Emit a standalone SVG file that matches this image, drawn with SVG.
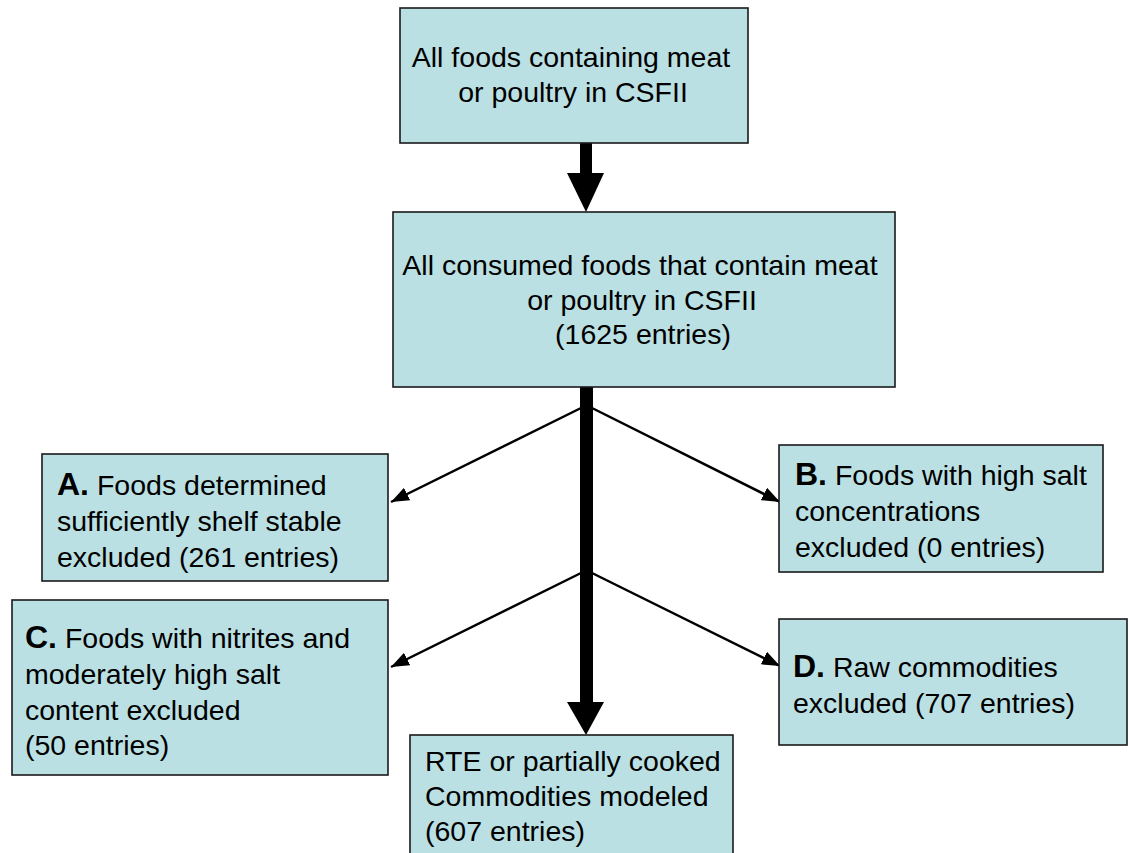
<svg xmlns="http://www.w3.org/2000/svg" width="1130" height="853" viewBox="0 0 1130 853">
<defs>
<style>
.box{fill:#bbe0e3;stroke:#1a1a1a;stroke-width:1.6}
.t{font-family:"Liberation Sans",Arial,sans-serif;font-size:28.5px;fill:#000}
.c{text-anchor:middle}
.b{font-weight:bold;font-size:32px}
.thin{stroke:#000;stroke-width:2.5;fill:none}
</style>
<marker id="ah" markerUnits="userSpaceOnUse" markerWidth="20" markerHeight="14" refX="18" refY="7" orient="auto">
<path d="M0,0 L18,7 L0,14 z" fill="#000"/>
</marker>
</defs>
<rect width="1130" height="853" fill="#fff"/>
<g id="connectors">
<rect x="580" y="143" width="12" height="31" fill="#000"/>
<polygon points="567,173 604,173 586,212" fill="#000"/>
<rect x="580" y="387" width="13" height="316" fill="#000"/>
<polygon points="567,702 604,702 586,735" fill="#000"/>
<line class="thin" x1="581" y1="408" x2="391" y2="502" marker-end="url(#ah)"/>
<line class="thin" x1="592" y1="408" x2="780" y2="502" marker-end="url(#ah)"/>
<line class="thin" x1="581" y1="573" x2="391" y2="667" marker-end="url(#ah)"/>
<line class="thin" x1="592" y1="573" x2="780" y2="666" marker-end="url(#ah)"/>
</g>
<g id="n1">
<rect class="box" x="400" y="8" width="348" height="135"/>
<text class="t c" x="571"><tspan x="571" y="67">All foods containing meat</tspan><tspan x="573" y="102">or poultry in CSFII</tspan></text>
</g>
<g id="n2">
<rect class="box" x="393" y="212" width="502" height="175"/>
<text class="t c"><tspan x="640" y="275">All consumed foods that contain meat</tspan><tspan x="642" y="310">or poultry in CSFII</tspan><tspan x="643" y="344">(1625 entries)</tspan></text>
</g>
<g id="nA">
<rect class="box" x="42" y="454" width="346" height="127"/>
<text class="t"><tspan x="57" y="495"><tspan class="b">A.</tspan> Foods determined</tspan><tspan x="57" y="531">sufficiently shelf stable</tspan><tspan x="57" y="567">excluded (261 entries)</tspan></text>
</g>
<g id="nB">
<rect class="box" x="779" y="445" width="324" height="127"/>
<text class="t"><tspan x="795" y="485"><tspan class="b">B.</tspan> Foods with high salt</tspan><tspan x="795" y="521">concentrations</tspan><tspan x="795" y="557">excluded (0 entries)</tspan></text>
</g>
<g id="nC">
<rect class="box" x="12" y="600" width="376" height="175"/>
<text class="t"><tspan x="25" y="648"><tspan class="b">C.</tspan> Foods with nitrites and</tspan><tspan x="25" y="684">moderately high salt</tspan><tspan x="25" y="720">content excluded</tspan><tspan x="25" y="755">(50 entries)</tspan></text>
</g>
<g id="nD">
<rect class="box" x="779" y="619" width="348" height="126"/>
<text class="t"><tspan x="793" y="677"><tspan class="b">D.</tspan> Raw commodities</tspan><tspan x="793" y="713">excluded (707 entries)</tspan></text>
</g>
<g id="nE">
<rect class="box" x="410" y="735" width="323" height="130"/>
<text class="t"><tspan x="425" y="771">RTE or partially cooked</tspan><tspan x="425" y="806">Commodities modeled</tspan><tspan x="425" y="841">(607 entries)</tspan></text>
</g>
</svg>
